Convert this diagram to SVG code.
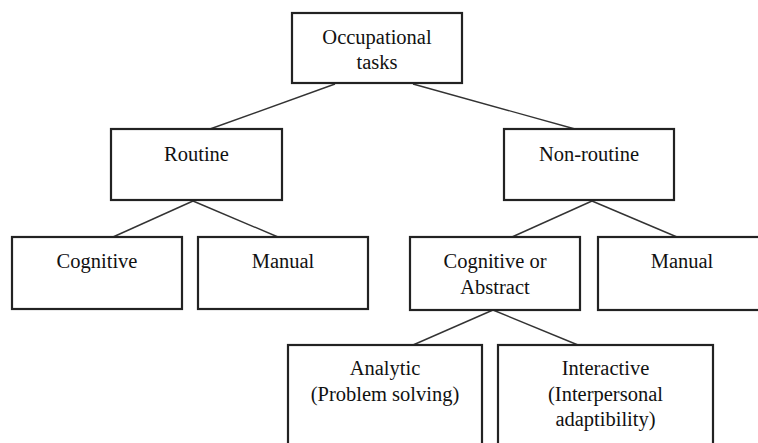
<svg xmlns="http://www.w3.org/2000/svg" width="758" height="443" viewBox="0 0 758 443">
<style>
.box{fill:#fff;stroke:#222;stroke-width:2.2}
.ln{stroke:#333;stroke-width:1.4;fill:none}
text{font-family:"Liberation Serif","Times New Roman",serif;font-size:20.5px;fill:#111;text-anchor:middle}
</style>
<rect width="758" height="443" fill="#fff"/>
<g id="connectors">
<line class="ln" x1="335" y1="84" x2="210" y2="129"/>
<line class="ln" x1="413" y1="84" x2="575" y2="129"/>
<line class="ln" x1="193" y1="201" x2="113" y2="237"/>
<line class="ln" x1="193" y1="201" x2="278" y2="237"/>
<line class="ln" x1="592" y1="201" x2="512" y2="237"/>
<line class="ln" x1="592" y1="201" x2="677" y2="237"/>
<line class="ln" x1="493" y1="310" x2="413" y2="345"/>
<line class="ln" x1="493" y1="310" x2="578" y2="345"/>
</g>
<g id="occupational">
<rect class="box" x="292" y="13" width="170" height="70"/>
<text x="377" y="44">Occupational</text>
<text x="377" y="69">tasks</text>
</g>
<g id="routine">
<rect class="box" x="111" y="129" width="171" height="71"/>
<text x="196.5" y="161">Routine</text>
</g>
<g id="nonroutine">
<rect class="box" x="504" y="129" width="170" height="71"/>
<text x="589" y="161">Non-routine</text>
</g>
<g id="cognitive">
<rect class="box" x="12" y="237" width="170" height="72"/>
<text x="97" y="268">Cognitive</text>
</g>
<g id="manual1">
<rect class="box" x="198" y="237" width="170" height="72"/>
<text x="283" y="268">Manual</text>
</g>
<g id="cogabstract">
<rect class="box" x="410" y="237" width="170" height="73"/>
<text x="495" y="268">Cognitive or</text>
<text x="495" y="294">Abstract</text>
</g>
<g id="manual2">
<rect class="box" x="598" y="237" width="170" height="73"/>
<text x="682" y="268">Manual</text>
</g>
<g id="analytic">
<rect class="box" x="288" y="345" width="194" height="110"/>
<text x="385" y="375">Analytic</text>
<text x="385" y="401">(Problem solving)</text>
</g>
<g id="interactive">
<rect class="box" x="498" y="345" width="215" height="110"/>
<text x="605.5" y="375">Interactive</text>
<text x="605.5" y="401">(Interpersonal</text>
<text x="605.5" y="426">adaptibility)</text>
</g>
</svg>
